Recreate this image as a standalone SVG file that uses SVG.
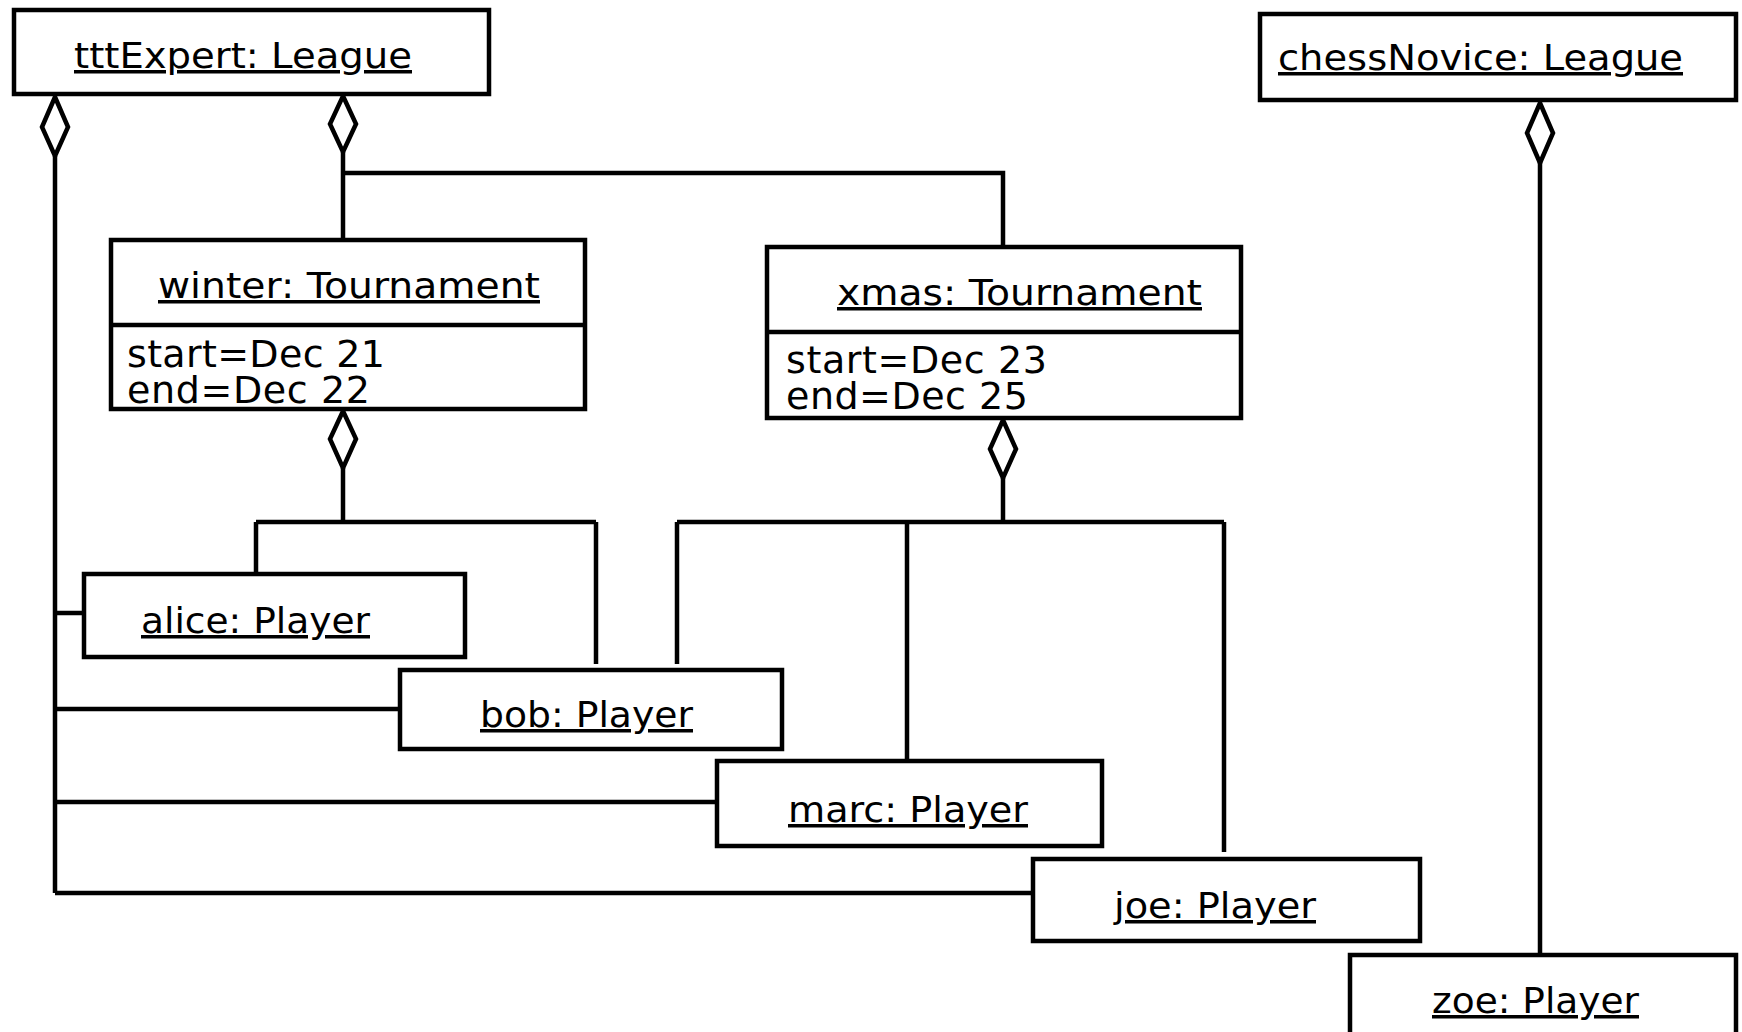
<svg xmlns="http://www.w3.org/2000/svg" width="1742" height="1032" viewBox="0 0 1742 1032">
<style>
.box{fill:#fff;stroke:#000;stroke-width:4.5}
.sep{stroke:#000;stroke-width:4.5}
.ln{fill:none;stroke:#000;stroke-width:4.5}
.dia{fill:#fff;stroke:#000;stroke-width:4.5;stroke-linejoin:miter}
.t{font-family:"DejaVu Sans","Liberation Sans",sans-serif;font-size:35px;fill:#000;text-decoration:underline}
.a{font-family:"DejaVu Sans","Liberation Sans",sans-serif;font-size:38px;fill:#000}
</style>
<rect width="1742" height="1032" fill="#fff"/>
<g id="connectors">
<path class="ln" d="M55,156 V893 M55,613 H84 M55,709 H400 M55,802 H717 M55,893 H1033"/>
<path class="ln" d="M343,152 V240 M343,173 H1003 V247"/>
<path class="ln" d="M343,468 V522 M256,522 H596 M256,522 V574 M596,522 V664"/>
<path class="ln" d="M1003,478 V522 M677,522 H1224 M677,522 V664 M907,522 V761 M1224,522 V852"/>
<path class="ln" d="M1540,162 V955"/>
<polygon class="dia" points="55,97 68,127 55,156 42,127"/>
<polygon class="dia" points="343,96 356,124 343,152 330,124"/>
<polygon class="dia" points="343,411 356,439 343,468 330,439"/>
<polygon class="dia" points="1003,420 1016,449 1003,478 990,449"/>
<polygon class="dia" points="1540,103 1553,133 1540,163 1527,133"/>
</g>
<g id="tttExpert">
<rect class="box" x="14" y="10" width="475" height="84"/>
<text class="t" x="74" y="68" textLength="338" lengthAdjust="spacingAndGlyphs">tttExpert: League</text>
</g>
<g id="chessNovice">
<rect class="box" x="1260" y="14" width="476" height="86"/>
<text class="t" x="1278" y="70" textLength="405" lengthAdjust="spacingAndGlyphs">chessNovice: League</text>
</g>
<g id="winter">
<rect class="box" x="111" y="240" width="474" height="169"/>
<line class="sep" x1="111" y1="325" x2="585" y2="325"/>
<text class="t" x="158" y="298" textLength="382" lengthAdjust="spacingAndGlyphs">winter: Tournament</text>
<text class="a" x="127" y="367" textLength="258">start=Dec 21</text>
<text class="a" x="127" y="403" textLength="243">end=Dec 22</text>
</g>
<g id="xmas">
<rect class="box" x="767" y="247" width="474" height="171"/>
<line class="sep" x1="767" y1="332" x2="1241" y2="332"/>
<text class="t" x="837" y="305" textLength="365" lengthAdjust="spacingAndGlyphs">xmas: Tournament</text>
<text class="a" x="786" y="373" textLength="261">start=Dec 23</text>
<text class="a" x="786" y="409" textLength="242">end=Dec 25</text>
</g>
<g id="alice">
<rect class="box" x="84" y="574" width="381" height="83"/>
<text class="t" x="141" y="633" textLength="229" lengthAdjust="spacingAndGlyphs">alice: Player</text>
</g>
<g id="bob">
<rect class="box" x="400" y="670" width="382" height="79"/>
<text class="t" x="480" y="727" textLength="213" lengthAdjust="spacingAndGlyphs">bob: Player</text>
</g>
<g id="marc">
<rect class="box" x="717" y="761" width="385" height="85"/>
<text class="t" x="788" y="822" textLength="240" lengthAdjust="spacingAndGlyphs">marc: Player</text>
</g>
<g id="joe">
<rect class="box" x="1033" y="859" width="387" height="82"/>
<text class="t" x="1114" y="918" textLength="202" lengthAdjust="spacingAndGlyphs">joe: Player</text>
</g>
<g id="zoe">
<rect class="box" x="1350" y="955" width="386" height="100"/>
<text class="t" x="1432" y="1013" textLength="207" lengthAdjust="spacingAndGlyphs">zoe: Player</text>
</g>
</svg>
